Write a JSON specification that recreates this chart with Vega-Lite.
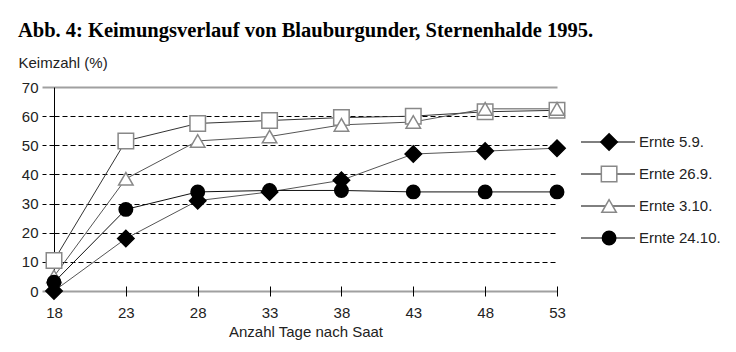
{
  "$schema": "https://vega.github.io/schema/vega-lite/v6.json",
  "padding": {"left": 18, "top": 20, "right": 2, "bottom": 4},
  "title": {"text": "Abb. 4: Keimungsverlauf von Blauburgunder, Sternenhalde 1995.", "anchor": "start", "frame": "bounds", "font": "Liberation Serif", "fontSize": 20.5, "fontWeight": "bold", "color": "#000", "offset": 14},
  "config": {"view": {"stroke": null}, "font": "Liberation Sans"},
  "datasets": {
    "keim": [
      {"serie": "Ernte 5.9.", "tag": 18, "keim": 0},
      {"serie": "Ernte 5.9.", "tag": 23, "keim": 18},
      {"serie": "Ernte 5.9.", "tag": 28, "keim": 31},
      {"serie": "Ernte 5.9.", "tag": 33, "keim": 34},
      {"serie": "Ernte 5.9.", "tag": 38, "keim": 38},
      {"serie": "Ernte 5.9.", "tag": 43, "keim": 47},
      {"serie": "Ernte 5.9.", "tag": 48, "keim": 48},
      {"serie": "Ernte 5.9.", "tag": 53, "keim": 49},
      {"serie": "Ernte 26.9.", "tag": 18, "keim": 10.5},
      {"serie": "Ernte 26.9.", "tag": 23, "keim": 51.5},
      {"serie": "Ernte 26.9.", "tag": 28, "keim": 57.5},
      {"serie": "Ernte 26.9.", "tag": 33, "keim": 58.5},
      {"serie": "Ernte 26.9.", "tag": 38, "keim": 59.5},
      {"serie": "Ernte 26.9.", "tag": 43, "keim": 60},
      {"serie": "Ernte 26.9.", "tag": 48, "keim": 61.5},
      {"serie": "Ernte 26.9.", "tag": 53, "keim": 62},
      {"serie": "Ernte 3.10.", "tag": 18, "keim": 5},
      {"serie": "Ernte 3.10.", "tag": 23, "keim": 38.5},
      {"serie": "Ernte 3.10.", "tag": 28, "keim": 51.5},
      {"serie": "Ernte 3.10.", "tag": 33, "keim": 53},
      {"serie": "Ernte 3.10.", "tag": 38, "keim": 57},
      {"serie": "Ernte 3.10.", "tag": 43, "keim": 58},
      {"serie": "Ernte 3.10.", "tag": 48, "keim": 62.5},
      {"serie": "Ernte 3.10.", "tag": 53, "keim": 62.5},
      {"serie": "Ernte 24.10.", "tag": 18, "keim": 3},
      {"serie": "Ernte 24.10.", "tag": 23, "keim": 28},
      {"serie": "Ernte 24.10.", "tag": 28, "keim": 34},
      {"serie": "Ernte 24.10.", "tag": 33, "keim": 34.5},
      {"serie": "Ernte 24.10.", "tag": 38, "keim": 34.5},
      {"serie": "Ernte 24.10.", "tag": 43, "keim": 34},
      {"serie": "Ernte 24.10.", "tag": 48, "keim": 34},
      {"serie": "Ernte 24.10.", "tag": 53, "keim": 34}
    ],
    "leg": [
      {"serie": "Ernte 5.9."},
      {"serie": "Ernte 26.9."},
      {"serie": "Ernte 3.10."},
      {"serie": "Ernte 24.10."}
    ]
  },
  "spacing": 11,
  "hconcat": [
    {
      "width": 503,
      "height": 204,
      "data": {"name": "keim"},
      "encoding": {
        "x": {"field": "tag", "type": "quantitative", "scale": {"domain": [18, 53], "nice": false, "zero": false},
          "axis": {"values": [18, 23, 28, 33, 38, 43, 48, 53], "title": "Anzahl Tage nach Saat", "domain": false, "grid": false, "offset": -5, "tickSize": 10, "tickColor": "#000", "labelFlush": false, "labelPadding": 9, "labelFontSize": 15, "labelColor": "#222", "titleFontSize": 15, "titleFontWeight": "normal", "titleColor": "#222", "titlePadding": 4}},
        "y": {"field": "keim", "type": "quantitative", "scale": {"domain": [0, 70], "nice": false},
          "axis": {"values": [0, 10, 20, 30, 40, 50, 60, 70], "title": "Keimzahl (%)", "titleAngle": 0, "titleAlign": "left", "titleBaseline": "middle", "titleX": -36, "titleY": -25, "titleFontSize": 15, "titleFontWeight": "normal", "titleColor": "#222",
            "domainColor": "#000", "domainWidth": 1,
            "grid": true,
            "gridColor": {"condition": {"test": "datum.value === 0 || datum.value === 70", "value": "#a0a0a0"}, "value": "#000"},
            "gridDash": {"condition": {"test": "datum.value === 0 || datum.value === 70", "value": []}, "value": [5, 3]},
            "gridWidth": {"condition": {"test": "datum.value === 0 || datum.value === 70", "value": 2}, "value": 1},
            "gridOpacity": 1,
            "tickSize": 12,
            "tickColor": {"condition": {"test": "datum.value === 0 || datum.value === 70", "value": "#a0a0a0"}, "value": "#000"},
            "tickDash": {"condition": {"test": "datum.value === 0 || datum.value === 70", "value": []}, "value": [5, 3]},
            "tickWidth": {"condition": {"test": "datum.value === 0 || datum.value === 70", "value": 2}, "value": 1},
            "labelPadding": 4, "labelFontSize": 15, "labelColor": "#222"}}
      },
      "layer": [
        {"mark": {"type": "line", "strokeWidth": 1},
          "encoding": {"color": {"field": "serie", "type": "nominal", "scale": {"domain": ["Ernte 5.9.", "Ernte 26.9.", "Ernte 3.10.", "Ernte 24.10."], "range": ["#555", "#333", "#555", "#111"]}, "legend": null}}},
        {"mark": {"type": "point", "filled": true, "opacity": 1, "strokeWidth": 1.5},
          "encoding": {
            "shape": {"field": "serie", "type": "nominal", "scale": {"domain": ["Ernte 5.9.", "Ernte 26.9.", "Ernte 3.10.", "Ernte 24.10."], "range": ["diamond", "square", "triangle-up", "circle"]}, "legend": null},
            "fill": {"field": "serie", "type": "nominal", "scale": {"domain": ["Ernte 5.9.", "Ernte 26.9.", "Ernte 3.10.", "Ernte 24.10."], "range": ["#000", "#fff", "#fff", "#000"]}, "legend": null},
            "stroke": {"field": "serie", "type": "nominal", "scale": {"domain": ["Ernte 5.9.", "Ernte 26.9.", "Ernte 3.10.", "Ernte 24.10."], "range": ["#000", "#888", "#888", "#000"]}, "legend": null},
            "size": {"field": "serie", "type": "nominal", "scale": {"domain": ["Ernte 5.9.", "Ernte 26.9.", "Ernte 3.10.", "Ernte 24.10."], "range": [270, 180, 220, 160]}, "legend": null}
          }}
      ]
    },
    {
      "width": 54,
      "height": 204,
      "data": {"name": "leg"},
      "encoding": {
        "y": {"field": "serie", "type": "nominal", "scale": {"type": "point", "domain": ["Ernte 5.9.", "Ernte 26.9.", "Ernte 3.10.", "Ernte 24.10."], "range": [55, 151], "padding": 0}, "axis": null}
      },
      "layer": [
        {"mark": {"type": "rule", "color": "#000", "strokeWidth": 1},
          "encoding": {"x": {"datum": 0, "type": "quantitative", "scale": {"domain": [0, 1]}, "axis": null}, "x2": {"datum": 1}}},
        {"mark": {"type": "point", "filled": true, "opacity": 1, "strokeWidth": 1.5},
          "encoding": {
            "x": {"datum": 0.52, "type": "quantitative", "scale": {"domain": [0, 1]}, "axis": null},
            "shape": {"field": "serie", "type": "nominal", "scale": {"domain": ["Ernte 5.9.", "Ernte 26.9.", "Ernte 3.10.", "Ernte 24.10."], "range": ["diamond", "square", "triangle-up", "circle"]}, "legend": null},
            "fill": {"field": "serie", "type": "nominal", "scale": {"domain": ["Ernte 5.9.", "Ernte 26.9.", "Ernte 3.10.", "Ernte 24.10."], "range": ["#000", "#fff", "#fff", "#000"]}, "legend": null},
            "stroke": {"field": "serie", "type": "nominal", "scale": {"domain": ["Ernte 5.9.", "Ernte 26.9.", "Ernte 3.10.", "Ernte 24.10."], "range": ["#000", "#888", "#888", "#000"]}, "legend": null},
            "size": {"field": "serie", "type": "nominal", "scale": {"domain": ["Ernte 5.9.", "Ernte 26.9.", "Ernte 3.10.", "Ernte 24.10."], "range": [260, 140, 150, 160]}, "legend": null}
          }},
        {"mark": {"type": "text", "align": "left", "baseline": "middle", "dx": 4, "fontSize": 15, "color": "#222"},
          "encoding": {"x": {"datum": 1, "type": "quantitative", "scale": {"domain": [0, 1]}, "axis": null}, "text": {"field": "serie"}}}
      ]
    }
  ]
}
